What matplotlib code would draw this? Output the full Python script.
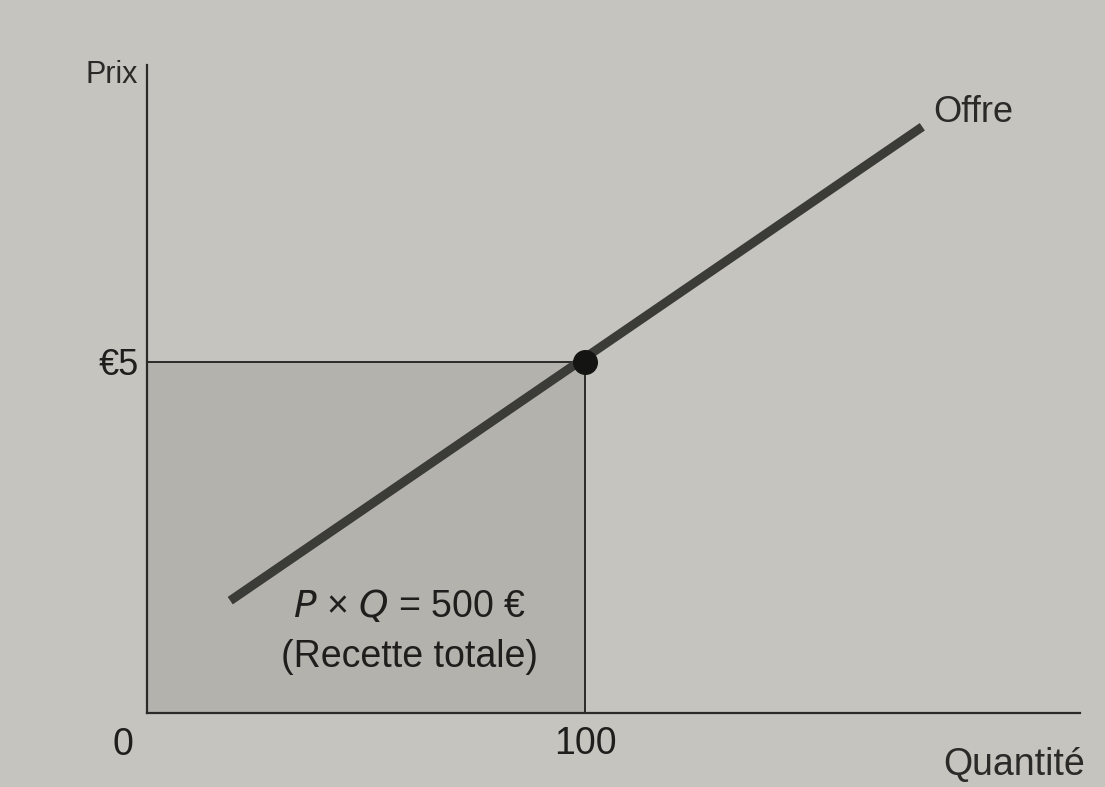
import numpy as np
import matplotlib.pyplot as plt
from matplotlib.patches import Rectangle

# Données
offre_q = [19, 177]
offre_p = [1.6, 8.35]
q_equilibre = 100
p_equilibre = 5
x_ticks = [100]
x_tick_labels = ["100"]
y_ticks = [5]
y_tick_labels = ["€5"]

fond = "#c6c4bf"
plt.rcParams["font.family"] = ["Liberation Sans", "DejaVu Sans"]
plt.rcParams["hatch.color"] = "#a6a4a0"
plt.rcParams["hatch.linewidth"] = 0.6

fig = plt.figure(figsize=(11.05, 7.87), dpi=100, facecolor=fond)
ax = fig.add_axes([147 / 1105, 1 - 713 / 787, (1080 - 147) / 1105, (713 - 65) / 787])
ax.set_facecolor(fond)
ax.set_xlim(0, 213)
ax.set_ylim(0, 9.23)

# Recette totale (rectangle grisé)
ax.add_patch(Rectangle((0, 0), q_equilibre, p_equilibre, facecolor="#b4b2ad",
                       edgecolor="none", hatch="//////", zorder=1))
ax.plot([0, q_equilibre], [p_equilibre, p_equilibre], color="#2a2a28", lw=1.4, zorder=2)
ax.plot([q_equilibre, q_equilibre], [0, p_equilibre], color="#2a2a28", lw=1.4, zorder=2)

# Courbe d'offre
ax.plot(offre_q, offre_p, color="#3b3b37", lw=6.5, solid_capstyle="butt", zorder=3)
ax.plot(q_equilibre, p_equilibre, "o", color="#141412", ms=17, zorder=4)

for s in ["top", "right"]:
    ax.spines[s].set_visible(False)
for s in ["left", "bottom"]:
    ax.spines[s].set_color("#2a2a28")
    ax.spines[s].set_linewidth(1.6)

ax.set_xticks(x_ticks, x_tick_labels)
ax.set_yticks(y_ticks, y_tick_labels)
ax.tick_params(axis="x", length=0, labelsize=27, colors="#1e1e1c", pad=9)
ax.tick_params(axis="y", length=0, labelsize=26, colors="#1e1e1c", pad=6)

ax.text(-0.01, 0.985, "Prix", transform=ax.transAxes, ha="right", va="center",
        fontsize=22, color="#2a2a28")
ax.text(-3, -0.45, "0", ha="right", va="center", fontsize=27, color="#1e1e1c")
ax.text(1.005, -0.108, "Quantité", transform=ax.transAxes, ha="right", va="bottom",
        fontsize=27, color="#2a2a28")
ax.text(179.5, 8.55, "Offre", ha="left", va="center", fontsize=26, color="#2a2a28")
ax.text(60, 1.52, r"$P$ × $Q$ = 500 €", ha="center", va="center",
        fontsize=27, color="#1e1e1c")
ax.text(60, 0.8, "(Recette totale)", ha="center", va="center",
        fontsize=27, color="#1e1e1c")

plt.savefig("out.png", dpi=100, facecolor=fond)
